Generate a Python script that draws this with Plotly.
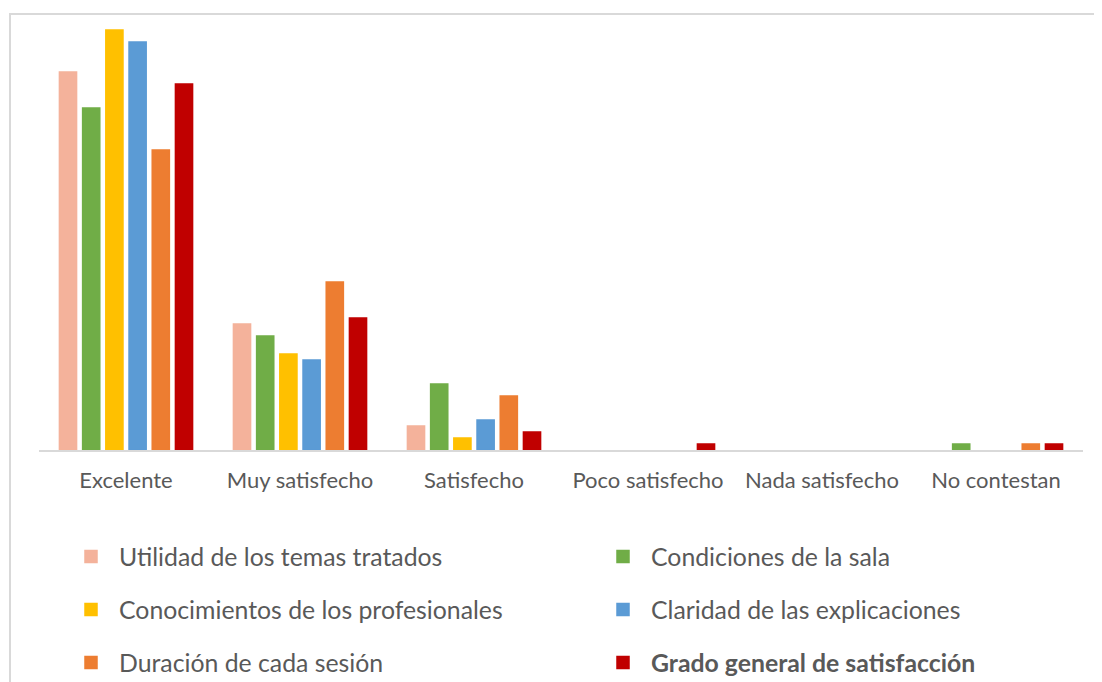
import plotly.graph_objects as go

categories = ["Excelente", "Muy satisfecho", "Satisfecho", "Poco satisfecho", "Nada satisfecho", "No contestan"]

series_names = [
    "Utilidad de los temas tratados",
    "Condiciones de la sala",
    "Conocimientos de los profesionales",
    "Claridad de las explicaciones",
    "Duración de cada sesión",
    "<b>Grado general de satisfacción</b>",
]
utilidad = [63, 21, 4, 0, 0, 0]
condiciones = [57, 19, 11, 0, 0, 1]
conocimientos = [70, 16, 2, 0, 0, 0]
claridad = [68, 15, 5, 0, 0, 0]
duracion = [50, 28, 9, 0, 0, 1]
grado = [61, 22, 3, 1, 0, 1]

colors = ["#F4B29B", "#70AD47", "#FFC000", "#5B9BD5", "#ED7D31", "#C00000"]
values = [utilidad, condiciones, conocimientos, claridad, duracion, grado]

# page has an 8px body margin: figure coordinates = page coordinates - 8
OFF = 8
W, H = 1102 - OFF, 682 - OFF
L = 39 - OFF
R = W - (1083 - OFF)
T = 24 - OFF
B = H - (450 - OFF)
pw, ph = W - L - R, H - T - B

legend_ids = ["legend", "legend2", "legend3", "legend4", "legend5", "legend6"]
# legend text start and row centre, page pixels
legend_text_x = [119, 651, 119, 651, 119, 651]
legend_row_y = [557, 557, 610, 610, 663, 663]
ITEMW = 46

fig = go.Figure()
for name, vals, col, lg in zip(series_names, values, colors, legend_ids):
    fig.add_trace(go.Bar(
        x=categories, y=[v if v else None for v in vals], name=name, legend=lg,
        marker=dict(color=col, line=dict(color=col, width=1.5)),
    ))

font_family = "Lato, 'Open Sans', sans-serif"
legends = {}
for lg, tx, ty in zip(legend_ids, legend_text_x, legend_row_y):
    legends[lg] = dict(
        orientation="h", xref="container", yref="container",
        xanchor="left", yanchor="middle",
        x=(tx - OFF - ITEMW - 10) / W, y=1 - (ty - OFF) / H,
        itemwidth=ITEMW,
        font=dict(family=font_family, size=24.8, color="#595959"),
        bgcolor="rgba(0,0,0,0)", itemclick=False, itemdoubleclick=False,
    )

fig.update_layout(
    width=W, height=H,
    margin=dict(l=L, r=R, t=T, b=B, autoexpand=False),
    paper_bgcolor="white", plot_bgcolor="white",
    barmode="group", bargap=0.2, bargroupgap=0.26,
    showlegend=True,
    xaxis=dict(
        showline=True, linecolor="#D9D9D9", linewidth=1.5,
        ticks="", showgrid=False, ticklabelstandoff=10,
        tickfont=dict(family=font_family, size=22, color="#595959"),
    ),
    yaxis=dict(range=[0, ph / 6.0], visible=False, showgrid=False, zeroline=False),
    shapes=[dict(
        type="rect", xref="paper", yref="paper",
        x0=(10 - OFF - L) / pw, x1=(1130 - OFF - L) / pw,
        y0=(H - B - (720 - OFF)) / ph, y1=(H - B - (14 - OFF)) / ph,
        line=dict(color="#D9D9D9", width=2), fillcolor="rgba(0,0,0,0)", layer="below",
    )],
    **legends,
)

fig.write_html("out.html")
